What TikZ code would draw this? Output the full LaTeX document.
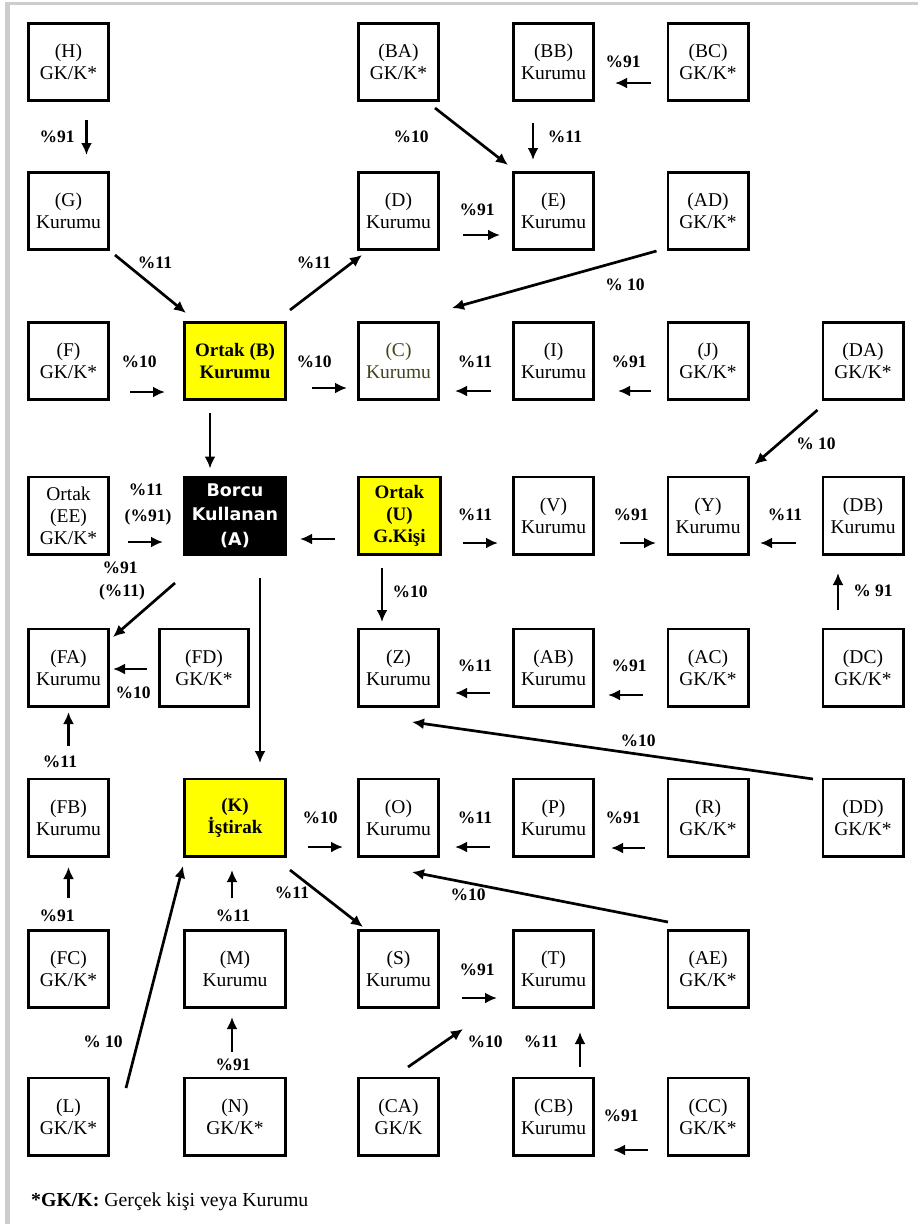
\documentclass[tikz,border=0pt]{standalone}
\usepackage{fontspec}
\setmainfont{Liberation Serif}
\newfontfamily\dejavu{DejaVu Sans}
\usetikzlibrary{arrows.meta,calc}
\definecolor{yel}{RGB}{255,255,0}
\definecolor{olivetxt}{RGB}{70,70,30}
\definecolor{framegray}{RGB}{205,205,205}
\begin{document}
\begin{tikzpicture}[x=1pt,y=-1pt,
  box/.style={draw, line width=2.8pt, minimum width=80.2pt, minimum height=77.2pt, inner sep=0pt, align=center, font=\fontsize{19.5}{22}\selectfont},
  bigbox/.style={box, minimum width=101.2pt},
  fdbox/.style={box, minimum width=89.2pt},
  yelbox/.style={bigbox, fill=yel, font=\bfseries\fontsize{19}{22}\selectfont},
  blkbox/.style={bigbox, fill=black, text=white, font=\dejavu\bfseries\fontsize{17.5}{24.5}\selectfont},
  lbl/.style={font=\bfseries\fontsize{17.5}{19}\selectfont, inner sep=0pt},
  arr/.style={line width=2.7pt, -{Latex[length=12pt,width=11pt]}}
]
\path[use as bounding box, fill=white] (0,0) rectangle (918,1224);
\fill[framegray] (5,2) rectangle (918,5);
\fill[framegray] (5,2) rectangle (10,1224);

% row 1
\node[box] (H)  at (68.5,62) {(H)\\GK/K*};
\node[box] (BA) at (398.5,62) {(BA)\\GK/K*};
\node[box] (BB) at (553.5,62) {(BB)\\Kurumu};
\node[box] (BC) at (708,62) {(BC)\\GK/K*};
% row 2
\node[box] (G)  at (68.5,211) {(G)\\Kurumu};
\node[box] (D)  at (398.5,211) {(D)\\Kurumu};
\node[box] (E)  at (553.5,211) {(E)\\Kurumu};
\node[box] (AD) at (708,211) {(AD)\\GK/K*};
% row 3
\node[box] (F)  at (68.5,361) {(F)\\GK/K*};
\node[yelbox] (B) at (235,361) {Ortak (B)\\Kurumu};
\node[box, text=olivetxt] (C)  at (398.5,361) {(C)\\Kurumu};
\node[box] (I)  at (553.5,361) {(I)\\Kurumu};
\node[box] (J)  at (708,361) {(J)\\GK/K*};
\node[box] (DA) at (863,361) {(DA)\\GK/K*};
% row 4
\node[box] (EE) at (68.5,515.5) {Ortak\\(EE)\\GK/K*};
\node[blkbox] (A) at (235,515.5) {Borcu\\Kullanan\\(A)};
\node[yelbox, minimum width=82.2pt] (U) at (399.5,515.5) {Ortak\\(U)\\G.Kişi};
\node[box] (V)  at (553.5,515.5) {(V)\\Kurumu};
\node[box] (Y)  at (708,515.5) {(Y)\\Kurumu};
\node[box] (DB) at (863,515.5) {(DB)\\Kurumu};
% row 5
\node[box] (FA) at (68.5,667.5) {(FA)\\Kurumu};
\node[fdbox] (FD) at (204,667.5) {(FD)\\GK/K*};
\node[box] (Z)  at (398.5,667.5) {(Z)\\Kurumu};
\node[box] (AB) at (553.5,667.5) {(AB)\\Kurumu};
\node[box] (AC) at (708,667.5) {(AC)\\GK/K*};
\node[box] (DC) at (863,667.5) {(DC)\\GK/K*};
% row 6
\node[box] (FB) at (68.5,817.5) {(FB)\\Kurumu};
\node[yelbox] (K) at (235,817.5) {(K)\\İştirak};
\node[box] (O)  at (398.5,817.5) {(O)\\Kurumu};
\node[box] (P)  at (553.5,817.5) {(P)\\Kurumu};
\node[box] (R)  at (708,817.5) {(R)\\GK/K*};
\node[box] (DD) at (863,817.5) {(DD)\\GK/K*};
% row 7
\node[box] (FC) at (68.5,969) {(FC)\\GK/K*};
\node[bigbox] (M) at (235,969) {(M)\\Kurumu};
\node[box] (S)  at (398.5,969) {(S)\\Kurumu};
\node[box] (T)  at (553.5,969) {(T)\\Kurumu};
\node[box] (AE) at (708,969) {(AE)\\GK/K*};
% row 8
\node[box] (L)  at (68.5,1116.5) {(L)\\GK/K*};
\node[bigbox] (N) at (235,1116.5) {(N)\\GK/K*};
\node[box] (CA) at (398.5,1116.5) {(CA)\\GK/K};
\node[box] (CB) at (553.5,1116.5) {(CB)\\Kurumu};
\node[box] (CC) at (708,1116.5) {(CC)\\GK/K*};

% connectors
\draw[arr] ($(H.south)+(18,18)$) -- ($(G.north)+(18,-16)$);
\draw[arr] ($(BB.south)+(-20.5,21)$) -- ($(E.north)+(-20.5,-11)$);
\draw[arr] ($(BA.south east)+(-5,6)$) -- ($(E.north west)+(-4,-6)$);
\draw[arr] ($(BC.west)+(-16,21)$) -- ($(BB.east)+(20,21)$);
\draw[arr] ($(G.south east)+(5,4)$) -- ($(B.north west)+(3,-8)$);
\draw[arr] ($(B.north east)+(3,-11)$) -- ($(D.south west)+(5,4)$);
\draw[arr] ($(D.east)+(23,24)$) -- ($(E.west)+(-12,24)$);
\draw[arr] ($(AD.south west)+(-10,0)$) -- ($(C.north east)+(12,-13)$);
\draw[arr] ($(F.east)+(20,31)$) -- ($(B.west)+(-18,31)$);
\draw[arr] ($(B.east)+(25,27)$) -- ($(C.west)+(-10,27)$);
\draw[arr] ($(I.west)+(-21,30)$) -- ($(C.east)+(15,30)$);
\draw[arr] ($(J.west)+(-15.5,30)$) -- ($(I.east)+(23,30)$);
\draw[arr] ($(DA.south west)+(-4,9)$) -- ($(Y.north east)+(5,-11)$);
\draw[arr] ($(B.south)+(-25,12)$) -- ($(A.north)+(-25,-7)$);
\draw[arr] ($(EE.east)+(18,26.5)$) -- ($(A.west)+(-20,26.5)$);
\draw[arr] ($(U.west)+(-22,23.5)$) -- ($(A.east)+(13,23.5)$);
\draw[arr] ($(U.east)+(21,27.5)$) -- ($(V.west)+(-14,27.5)$);
\draw[arr] ($(V.east)+(25,27.5)$) -- ($(Y.west)+(-10.5,27.5)$);
\draw[arr] ($(DB.west)+(-25.5,27.5)$) -- ($(Y.east)+(10.5,27.5)$);
\draw[arr] ($(A.south west)+(-8,27.5)$) -- ($(FA.north east)+(3,9.5)$);
\draw[arr] ($(A.south)+(25,22.5)$) -- ($(K.north)+(25,-14.5)$);
\draw[arr] ($(U.south)+(-17.5,12.5)$) -- ($(Z.north)+(-16.5,-5.5)$);
\draw[arr] ($(FD.west)+(-11,1.5)$) -- ($(FA.east)+(3,1.5)$);
\draw[arr] ($(FB.north)+(0,-32)$) -- ($(FA.south)+(0,4.5)$);
\draw[arr] ($(AB.west)+(-22,25.5)$) -- ($(Z.east)+(15,25.5)$);
\draw[arr] ($(AC.west)+(-23.5,27.5)$) -- ($(AB.east)+(13,27.5)$);
\draw[arr] ($(DC.north)+(-25,-17.5)$) -- ($(DB.south)+(-25,17.5)$);
\draw[arr] ($(DD.north west)+(-8.5,1.5)$) -- ($(Z.south east)+(-28,14.5)$);
\draw[arr] ($(K.east)+(21,29.5)$) -- ($(O.west)+(-14,29.5)$);
\draw[arr] ($(P.west)+(-22,29.5)$) -- ($(O.east)+(15,29.5)$);
\draw[arr] ($(R.west)+(-21.5,30.5)$) -- ($(P.east)+(16,30.5)$);
\draw[arr] ($(AE.north west)+(1.5,-7)$) -- ($(O.south east)+(-28,14.5)$);
\draw[arr] ($(K.south east)+(3,12.5)$) -- ($(S.north west)+(6,-2)$);
\draw[arr] ($(FC.north)+(0,-31)$) -- ($(FB.south)+(0,9.5)$);
\draw[arr] ($(M.north)+(-3,-31)$) -- ($(K.south)+(-3,12.5)$);
\draw[arr] ($(L.north east)+(16,11.5)$) -- ($(K.south west)+(0,8.5)$);
\draw[arr] ($(N.north)+(-3,-24.5)$) -- ($(M.south)+(-3,8)$);
\draw[arr] ($(S.east)+(22,29)$) -- ($(T.west)+(-15,29)$);
\draw[arr] ($(CA.north)+(9.5,-9.5)$) -- ($(T.south west)+(-49,20)$);
\draw[arr] ($(CB.north)+(26.5,-9.5)$) -- ($(T.south)+(26.5,23)$);
\draw[arr] ($(CC.west)+(-18.5,33.5)$) -- ($(CB.east)+(18,33.5)$);

% labels
\node[lbl] (l1)  at (57,137) {\%91};
\node[lbl] (l2)  at (411,137) {\%10};
\node[lbl] (l3)  at (565,137) {\%11};
\node[lbl] (l4)  at (623,62) {\%91};
\node[lbl] (l5)  at (155,263) {\%11};
\node[lbl] (l6)  at (314,263) {\%11};
\node[lbl] (l7)  at (477,210) {\%91};
\node[lbl] (l8)  at (625,285) {\% 10};
\node[lbl] (l9)  at (139,362) {\%10};
\node[lbl] (l10) at (314,362) {\%10};
\node[lbl] (l11) at (475,362) {\%11};
\node[lbl] (l12) at (629,362) {\%91};
\node[lbl] (l13) at (816,444) {\% 10};
\node[lbl] (l14) at (146,490) {\%11};
\node[lbl] (l15) at (148,517) {(\%91)};
\node[lbl] (l16) at (475,515) {\%11};
\node[lbl] (l17) at (631,515) {\%91};
\node[lbl] (l18) at (785,515) {\%11};
\node[lbl] (l19) at (120,568) {\%91};
\node[lbl] (l20) at (122,592) {(\%11)};
\node[lbl] (l21) at (410,592) {\%10};
\node[lbl] (l22) at (873,591) {\% 91};
\node[lbl] (l23) at (133,693) {\%10};
\node[lbl] (l24) at (475,666) {\%11};
\node[lbl] (l25) at (629,666) {\%91};
\node[lbl] (l26) at (638,741) {\%10};
\node[lbl] (l27) at (60,762) {\%11};
\node[lbl] (l28) at (320,818) {\%10};
\node[lbl] (l29) at (475,818) {\%11};
\node[lbl] (l30) at (623,818) {\%91};
\node[lbl] (l31) at (468,895) {\%10};
\node[lbl] (l32) at (292,893) {\%11};
\node[lbl] (l33) at (57,916) {\%91};
\node[lbl] (l34) at (233,916) {\%11};
\node[lbl] (l35) at (477,970) {\%91};
\node[lbl] (l36) at (103,1042) {\% 10};
\node[lbl] (l37) at (233,1065) {\%91};
\node[lbl] (l38) at (485,1042) {\%10};
\node[lbl] (l39) at (541,1042) {\%11};
\node[lbl] (l40) at (621,1116) {\%91};

% footnote
\node[anchor=west, inner sep=0pt, font=\fontsize{19.8}{22}\selectfont] (fn) at (31,1202) {\textbf{*GK/K:} Gerçek kişi veya Kurumu};
\end{tikzpicture}
\end{document}
